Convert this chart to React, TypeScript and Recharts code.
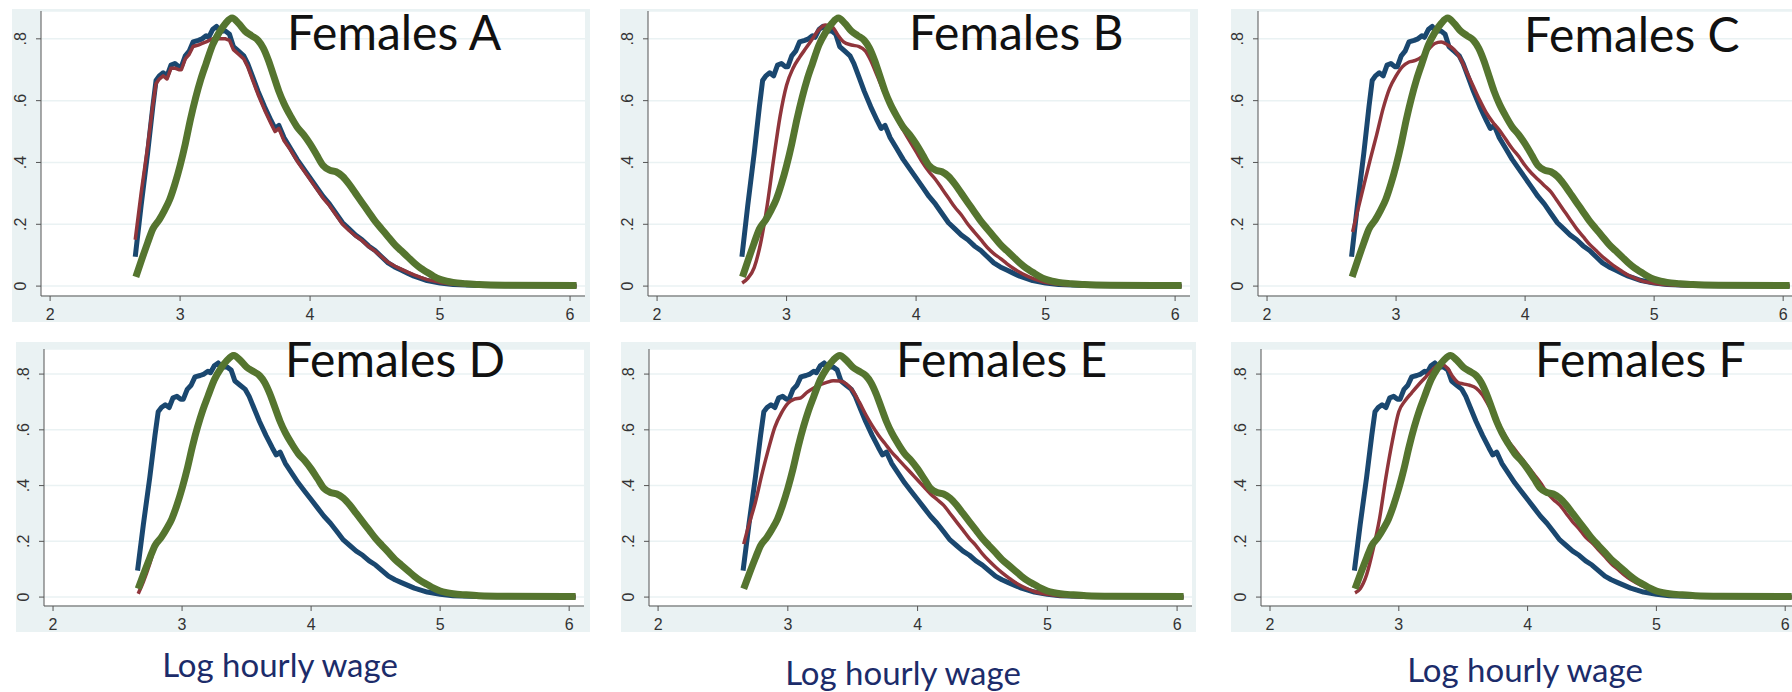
import { LineChart, Line, XAxis, YAxis, CartesianGrid } from 'recharts';

type Pt = { w: number; d: number };
const pts = (rows: number[][]): Pt[] => rows.map(([w, d]) => ({ w, d }));

// panel titles and axis text
const panelTitles = ['Females A', 'Females B', 'Females C', 'Females D', 'Females E', 'Females F'];
const xTicks = [2, 3, 4, 5, 6];
const yTicks = [0, 0.2, 0.4, 0.6, 0.8];
const yTickLabels = ['0', '.2', '.4', '.6', '.8'];
const axisTitle = 'Log hourly wage';

// blue curve (same in every panel)
const blueCurve = pts([
  [2.655, 0.095], [2.7, 0.26], [2.75, 0.43], [2.79, 0.58], [2.815, 0.665], [2.84, 0.68], [2.87, 0.69],
  [2.9, 0.68], [2.93, 0.715], [2.96, 0.72], [2.99, 0.71], [3.01, 0.71], [3.04, 0.745], [3.07, 0.76],
  [3.1, 0.79], [3.14, 0.795], [3.17, 0.8], [3.2, 0.81], [3.22, 0.805], [3.25, 0.83], [3.28, 0.84],
  [3.31, 0.825], [3.35, 0.825], [3.38, 0.815], [3.41, 0.775], [3.45, 0.76], [3.49, 0.745], [3.52, 0.72],
  [3.56, 0.675], [3.6, 0.63], [3.65, 0.58], [3.7, 0.535], [3.73, 0.51], [3.76, 0.52], [3.8, 0.48],
  [3.85, 0.445], [3.9, 0.41], [3.95, 0.38], [4.0, 0.35], [4.05, 0.32], [4.1, 0.29], [4.15, 0.265],
  [4.2, 0.235], [4.25, 0.205], [4.3, 0.185], [4.35, 0.165], [4.4, 0.15], [4.45, 0.13], [4.5, 0.115],
  [4.55, 0.095], [4.6, 0.075], [4.65, 0.062], [4.7, 0.052], [4.75, 0.042], [4.8, 0.032], [4.85, 0.025],
  [4.9, 0.018], [5.0, 0.01], [5.1, 0.005], [5.3, 0.002], [5.6, 0.001], [6.05, 0.0],
]);

// green curve (same in every panel)
const greenCurve = pts([
  [2.66, 0.03], [2.7, 0.08], [2.75, 0.14], [2.79, 0.185], [2.84, 0.215], [2.88, 0.245], [2.92, 0.28],
  [2.96, 0.33], [3.0, 0.39], [3.04, 0.46], [3.08, 0.54], [3.12, 0.61], [3.16, 0.67], [3.2, 0.72],
  [3.25, 0.78], [3.3, 0.82], [3.35, 0.85], [3.4, 0.867], [3.45, 0.85], [3.5, 0.825], [3.55, 0.81],
  [3.6, 0.795], [3.64, 0.77], [3.68, 0.73], [3.72, 0.68], [3.76, 0.63], [3.8, 0.59], [3.85, 0.55],
  [3.9, 0.515], [3.95, 0.49], [4.0, 0.46], [4.05, 0.425], [4.1, 0.39], [4.15, 0.375], [4.2, 0.37],
  [4.25, 0.355], [4.3, 0.33], [4.35, 0.3], [4.4, 0.27], [4.45, 0.24], [4.5, 0.21], [4.55, 0.185],
  [4.6, 0.16], [4.65, 0.135], [4.7, 0.115], [4.75, 0.095], [4.8, 0.075], [4.85, 0.058], [4.9, 0.045],
  [4.95, 0.032], [5.0, 0.022], [5.05, 0.016], [5.1, 0.012], [5.2, 0.008], [5.3, 0.005], [5.5, 0.003],
  [6.05, 0.002],
]);

// red curve, one per panel
const redA = pts([
  [2.655, 0.15], [2.7, 0.3], [2.75, 0.45], [2.79, 0.585], [2.815, 0.655], [2.84, 0.67], [2.87, 0.68],
  [2.9, 0.67], [2.93, 0.705], [2.96, 0.705], [2.99, 0.7], [3.01, 0.7], [3.04, 0.735], [3.07, 0.75],
  [3.1, 0.775], [3.14, 0.78], [3.17, 0.785], [3.2, 0.79], [3.25, 0.8], [3.3, 0.8], [3.35, 0.8],
  [3.38, 0.795], [3.41, 0.765], [3.45, 0.75], [3.49, 0.735], [3.52, 0.71], [3.56, 0.665], [3.6, 0.62],
  [3.65, 0.57], [3.7, 0.525], [3.73, 0.5], [3.76, 0.51], [3.8, 0.47], [3.85, 0.44], [3.9, 0.405],
  [3.95, 0.375], [4.0, 0.345], [4.05, 0.315], [4.1, 0.285], [4.15, 0.26], [4.2, 0.23], [4.25, 0.2],
  [4.3, 0.18], [4.35, 0.162], [4.4, 0.147], [4.45, 0.128], [4.5, 0.113], [4.55, 0.095], [4.6, 0.077],
  [4.65, 0.065], [4.7, 0.055], [4.75, 0.045], [4.8, 0.036], [4.85, 0.028], [4.9, 0.021], [5.0, 0.012],
  [5.1, 0.006], [5.3, 0.002], [6.05, 0.0],
]);

const redB = pts([
  [2.657, 0.01], [2.7, 0.025], [2.75, 0.06], [2.8, 0.14], [2.85, 0.26], [2.9, 0.41], [2.95, 0.55],
  [3.0, 0.65], [3.05, 0.705], [3.1, 0.74], [3.15, 0.77], [3.2, 0.8], [3.25, 0.83], [3.3, 0.845],
  [3.35, 0.84], [3.4, 0.81], [3.44, 0.79], [3.5, 0.78], [3.56, 0.775], [3.61, 0.76], [3.65, 0.73],
  [3.7, 0.68], [3.75, 0.63], [3.8, 0.585], [3.85, 0.545], [3.9, 0.505], [3.95, 0.47], [4.0, 0.435],
  [4.05, 0.4], [4.1, 0.37], [4.15, 0.345], [4.2, 0.315], [4.25, 0.285], [4.3, 0.255], [4.35, 0.23],
  [4.4, 0.2], [4.45, 0.175], [4.5, 0.15], [4.55, 0.125], [4.6, 0.105], [4.65, 0.09], [4.7, 0.073],
  [4.75, 0.058], [4.8, 0.045], [4.85, 0.034], [4.9, 0.025], [4.95, 0.018], [5.0, 0.012], [5.1, 0.006],
  [5.3, 0.002], [6.05, 0.0],
]);

const redC = pts([
  [2.663, 0.175], [2.7, 0.24], [2.75, 0.325], [2.8, 0.41], [2.85, 0.49], [2.9, 0.575], [2.95, 0.64],
  [3.0, 0.68], [3.05, 0.71], [3.1, 0.725], [3.15, 0.73], [3.2, 0.742], [3.25, 0.765], [3.3, 0.785],
  [3.35, 0.79], [3.4, 0.78], [3.45, 0.765], [3.5, 0.735], [3.55, 0.69], [3.6, 0.645], [3.65, 0.6],
  [3.7, 0.56], [3.75, 0.53], [3.8, 0.505], [3.85, 0.475], [3.9, 0.445], [3.95, 0.42], [4.0, 0.39],
  [4.05, 0.365], [4.1, 0.345], [4.15, 0.325], [4.2, 0.305], [4.25, 0.275], [4.3, 0.245], [4.35, 0.215],
  [4.4, 0.185], [4.45, 0.16], [4.5, 0.135], [4.55, 0.115], [4.6, 0.095], [4.65, 0.078], [4.7, 0.062],
  [4.75, 0.048], [4.8, 0.035], [4.85, 0.026], [4.9, 0.018], [5.0, 0.009], [5.1, 0.004], [5.3, 0.001],
  [6.05, 0.0],
]);

const redD = pts([
  [2.66, 0.012], [2.7, 0.055], [2.75, 0.12], [2.79, 0.18], [2.84, 0.215], [2.88, 0.245], [2.92, 0.28],
  [2.96, 0.33], [3.0, 0.39], [3.04, 0.46], [3.08, 0.54], [3.12, 0.61], [3.16, 0.67], [3.2, 0.72],
  [3.25, 0.78], [3.3, 0.82], [3.35, 0.855], [3.4, 0.872], [3.45, 0.855], [3.5, 0.83], [3.55, 0.815],
  [3.6, 0.8], [3.64, 0.775], [3.68, 0.735], [3.72, 0.685], [3.76, 0.635], [3.8, 0.595], [3.85, 0.555],
  [3.9, 0.52], [3.95, 0.49], [4.0, 0.46], [4.05, 0.425], [4.1, 0.39], [4.15, 0.375], [4.2, 0.37],
  [4.25, 0.355], [4.3, 0.33], [4.35, 0.3], [4.4, 0.27], [4.45, 0.24], [4.5, 0.21], [4.55, 0.185],
  [4.6, 0.16], [4.65, 0.135], [4.7, 0.115], [4.75, 0.095], [4.8, 0.075], [4.85, 0.058], [4.9, 0.045],
  [4.95, 0.032], [5.0, 0.022], [5.1, 0.012], [5.3, 0.005], [6.05, 0.002],
]);

const redE = pts([
  [2.66, 0.19], [2.7, 0.26], [2.75, 0.34], [2.8, 0.44], [2.85, 0.53], [2.9, 0.61], [2.95, 0.66],
  [3.0, 0.695], [3.05, 0.71], [3.1, 0.715], [3.15, 0.735], [3.2, 0.75], [3.25, 0.762], [3.3, 0.77],
  [3.35, 0.776], [3.4, 0.775], [3.45, 0.765], [3.5, 0.74], [3.55, 0.7], [3.6, 0.655], [3.65, 0.615],
  [3.7, 0.58], [3.75, 0.55], [3.8, 0.52], [3.85, 0.495], [3.9, 0.47], [3.95, 0.445], [4.0, 0.42],
  [4.05, 0.395], [4.1, 0.37], [4.15, 0.35], [4.2, 0.33], [4.25, 0.3], [4.3, 0.27], [4.35, 0.24],
  [4.4, 0.21], [4.45, 0.185], [4.5, 0.155], [4.55, 0.13], [4.6, 0.108], [4.65, 0.088], [4.7, 0.07],
  [4.75, 0.053], [4.8, 0.04], [4.85, 0.029], [4.9, 0.02], [5.0, 0.01], [5.1, 0.004], [5.3, 0.001],
  [6.05, 0.0],
]);

const redF = pts([
  [2.66, 0.015], [2.7, 0.03], [2.75, 0.08], [2.8, 0.17], [2.85, 0.28], [2.9, 0.43], [2.95, 0.56],
  [3.0, 0.665], [3.05, 0.705], [3.1, 0.733], [3.15, 0.76], [3.2, 0.785], [3.25, 0.81], [3.3, 0.83],
  [3.34, 0.833], [3.38, 0.82], [3.42, 0.79], [3.46, 0.77], [3.5, 0.765], [3.55, 0.76], [3.6, 0.75],
  [3.65, 0.725], [3.7, 0.685], [3.75, 0.645], [3.8, 0.6], [3.85, 0.56], [3.9, 0.53], [3.95, 0.5],
  [4.0, 0.47], [4.05, 0.44], [4.1, 0.41], [4.15, 0.375], [4.2, 0.35], [4.25, 0.33], [4.3, 0.3],
  [4.35, 0.27], [4.4, 0.245], [4.45, 0.215], [4.5, 0.195], [4.55, 0.17], [4.6, 0.145], [4.65, 0.12],
  [4.7, 0.1], [4.75, 0.08], [4.8, 0.063], [4.85, 0.05], [4.9, 0.038], [4.95, 0.028], [5.0, 0.02],
  [5.1, 0.01], [5.2, 0.005], [5.4, 0.002], [6.05, 0.0],
]);

const redCurves = [redA, redB, redC, redD, redE, redF];

// layout of each panel on the page (pixels): light background box, plot insets, title spot
const frames = [
  { left: 12, top: 9, width: 578, height: 313, yw: 29, mt: 2, mr: 5, tx: 287, ty: 50 },
  { left: 620, top: 9, width: 578, height: 313, yw: 28, mt: 2, mr: 8, tx: 909, ty: 50 },
  { left: 1231, top: 9, width: 569, height: 313, yw: 27, mt: 2, mr: 2, tx: 1524, ty: 52 },
  { left: 16, top: 342, width: 574, height: 290, yw: 28, mt: 7, mr: 6, tx: 285, ty: 377 },
  { left: 621, top: 342, width: 575, height: 290, yw: 28, mt: 7, mr: 4, tx: 896, ty: 377 },
  { left: 1231, top: 342, width: 569, height: 290, yw: 30, mt: 7, mr: 0, tx: 1535, ty: 377 },
];
const axisTitlePos = [
  { cx: 280, base: 677 },
  { cx: 903, base: 685 },
  { cx: 1525, base: 682 },
];

const BG = '#eaf2f3';
const AXIS = '#555';
const TICK_FONT = "'Liberation Sans', Arial, sans-serif";
const PAD = 10; // extra room round each chart so tick labels are never clipped
const XH = 26;

function XTick({ x, y, payload }: any) {
  return (
    <text x={x} y={y + 17} textAnchor="middle" fontSize={16} fill="#333" fontFamily={TICK_FONT}>
      {payload.value}
    </text>
  );
}

function YTick({ x, y, payload }: any) {
  const cx = x - 13;
  const label = yTickLabels[yTicks.indexOf(payload.value)];
  return (
    <text
      x={cx}
      y={y}
      transform={`rotate(-90 ${cx} ${y})`}
      textAnchor="middle"
      dominantBaseline="central"
      fontSize={16}
      fill="#333"
      fontFamily={TICK_FONT}
    >
      {label}
    </text>
  );
}

function Panel({ i }: { i: number }) {
  const f = frames[i];
  return (
    <>
      <div style={{ position: 'absolute', left: f.left, top: f.top, width: f.width, height: f.height, background: BG }} />
      <div style={{ position: 'absolute', left: f.left - PAD, top: f.top }}>
        <LineChart
          width={f.width + PAD}
          height={f.height + PAD}
          margin={{ top: f.mt, right: f.mr, bottom: 0, left: 0 }}
        >
          <CartesianGrid vertical={false} fill="#fff" stroke={BG} strokeWidth={1.5} />
          <XAxis
            type="number"
            dataKey="w"
            domain={[1.93, 6.115]}
            ticks={xTicks}
            allowDataOverflow
            height={XH + PAD}
            tickSize={5}
            stroke={AXIS}
            tick={<XTick />}
          />
          <YAxis
            type="number"
            dataKey="d"
            domain={[-0.032, 0.89]}
            ticks={yTicks}
            allowDataOverflow
            width={f.yw + PAD}
            tickSize={5}
            stroke={AXIS}
            tick={<YTick />}
          />
          <Line data={blueCurve} dataKey="d" type="linear" stroke="#1a476f" strokeWidth={5} dot={false} activeDot={false} isAnimationActive={false} strokeLinejoin="round" />
          <Line data={redCurves[i]} dataKey="d" type={i === 0 ? 'linear' : 'monotone'} stroke="#90353b" strokeWidth={3.5} dot={false} activeDot={false} isAnimationActive={false} strokeLinejoin="round" />
          <Line data={greenCurve} dataKey="d" type="monotone" stroke="#55752f" strokeWidth={7} dot={false} activeDot={false} isAnimationActive={false} strokeLinejoin="round" />
        </LineChart>
      </div>
    </>
  );
}

export default function App() {
  return (
    <div style={{ position: 'fixed', left: 0, top: 0, width: 1792, height: 692, overflow: 'hidden', background: '#fff' }}>
      {frames.map((_, i) => (
        <Panel key={i} i={i} />
      ))}
      <svg width={1792} height={692} style={{ position: 'absolute', left: 0, top: 0, pointerEvents: 'none' }}>
        {frames.map((f, i) => (
          <text key={i} x={f.tx} y={f.ty} fontSize={48} fontFamily="Lato, 'Open Sans', sans-serif" fill="#111">
            {panelTitles[i]}
          </text>
        ))}
        {axisTitlePos.map((p, i) => (
          <text key={i} x={p.cx} y={p.base} textAnchor="middle" fontSize={33} fontFamily="Lato, 'Open Sans', sans-serif" fill="#1c2c6a">
            {axisTitle}
          </text>
        ))}
      </svg>
    </div>
  );
}
